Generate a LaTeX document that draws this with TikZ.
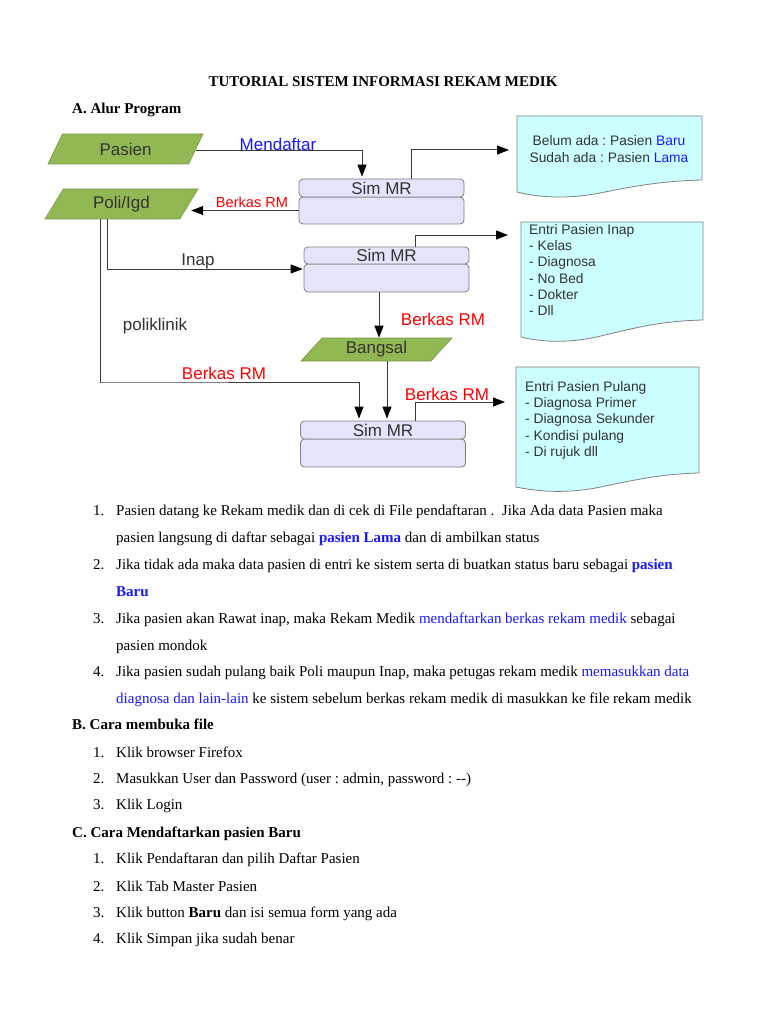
\documentclass[tikz,border=0pt]{standalone}
\usepackage{fontspec}
\setmainfont{Liberation Serif}
\newfontfamily\diagfont{Liberation Sans}
\usetikzlibrary{arrows.meta,shapes.geometric}

\definecolor{ioGreen}{RGB}{146,184,84}
\definecolor{ioEdge}{RGB}{120,150,70}
\definecolor{simFill}{RGB}{228,228,250}
\definecolor{docFill}{RGB}{204,255,255}
\definecolor{edgeGray}{RGB}{128,128,128}
\definecolor{lineGray}{RGB}{60,60,60}
\definecolor{txtGray}{RGB}{51,51,51}
\definecolor{linkBlue}{RGB}{25,25,255}
\definecolor{rmRed}{RGB}{255,0,0}

\begin{document}
\frenchspacing
\begin{tikzpicture}[x=1pt,y=-1pt,
  io/.style={trapezium, trapezium stretches body, fill=ioGreen, draw=ioEdge, line width=0.6pt,
    inner sep=0pt, text=txtGray, font=\diagfont\fontsize{17}{20}\selectfont},
  simbox/.style={rectangle, rounded corners=4pt, fill=simFill, draw=edgeGray, line width=0.8pt,
    minimum width=165pt, inner sep=0pt, text=txtGray, font=\diagfont\fontsize{17}{20}\selectfont},
  docline/.style={fill=docFill, draw=edgeGray, line width=0.8pt},
  doctext/.style={inner sep=0pt, text=txtGray, font=\diagfont\fontsize{13.8}{16.3}\selectfont},
  flow/.style={draw=lineGray, line width=1pt, -{Triangle[length=12pt,width=9pt,color=black]}},
  lbl/.style={inner sep=0pt, font=\diagfont\fontsize{17}{20}\selectfont},
  txt/.style={anchor=base west, inner sep=0pt, font=\fontsize{15}{18}\selectfont}
]
  \fill[white] (0,0) rectangle (768,1024);
  \useasboundingbox (0,0) rectangle (768,1024);

  % heading
  \node[txt, anchor=base, font=\bfseries\fontsize{15}{18}\selectfont] (title) at (383,87) {TUTORIAL SISTEM INFORMASI REKAM MEDIK};
  \node[txt, font=\bfseries\fontsize{15}{18}\selectfont] (headA) at (72,114) {A. Alur Program};

  % documents
  \draw[docline] (517,116) -- (702,116) -- (702,180) .. controls (660,181) and (630,187) .. (600,193)
    .. controls (570,199) and (540,198) .. (517,192) -- cycle;
  \draw[docline] (521,222) -- (703,222) -- (703,320) .. controls (660,321) and (635,328) .. (605,335)
    .. controls (575,343) and (545,343) .. (521,337) -- cycle;
  \draw[docline] (516,367) -- (699,367) -- (699,473) .. controls (660,474) and (635,480) .. (605,486)
    .. controls (575,493) and (545,493) .. (516,487) -- cycle;

  \node[doctext, align=center] (doc1) at (609,149) {Belum ada : Pasien \textcolor{linkBlue}{Baru}\\Sudah ada : Pasien \textcolor{linkBlue}{Lama}};
  \node[doctext, align=left, anchor=north west] (doc2) at (529,224) {Entri Pasien Inap\\- Kelas\\- Diagnosa\\- No Bed\\- Dokter\\- Dll};
  \node[doctext, align=left, anchor=north west] (doc3) at (525,381) {Entri Pasien Pulang\\- Diagnosa Primer\\- Diagnosa Sekunder\\- Kondisi pulang\\- Di rujuk dll};

  % flowchart shapes
  \node[io, trapezium left angle=41, trapezium right angle=139, minimum width=155pt, minimum height=30pt] (pasien) at (125.5,149) {Pasien};
  \node[io, trapezium left angle=41, trapezium right angle=139, minimum width=153pt, minimum height=30pt] (poli) at (121.5,204) {Poli/Igd};
  \node[io, trapezium left angle=37, trapezium right angle=143, minimum width=151pt, minimum height=23pt] (bangsal) at (376.5,349.5) {Bangsal};

  \node[simbox, minimum height=27pt] (sim1b) at (381.5,210.5) {};
  \node[simbox, minimum height=18pt] (sim1) at (381.5,188) {Sim MR};
  \node[simbox, minimum height=28pt] (sim2b) at (386.5,278) {};
  \node[simbox, minimum height=17pt] (sim2) at (386.5,255.5) {Sim MR};
  \node[simbox, minimum height=28pt] (sim3b) at (383,453) {};
  \node[simbox, minimum height=18pt] (sim3) at (383,430) {Sim MR};

  % connectors
  \coordinate (in1) at (509,150);
  \coordinate (in2) at (508,235);
  \coordinate (in3) at (505,402);
  \coordinate (poliA) at ([xshift=-21.5pt]poli.south);
  \coordinate (poliB) at ([xshift=-14.5pt]poli.south);

  \draw[flow, shorten >=2pt] ([yshift=-2pt]pasien.east) -| ([xshift=-19.5pt]sim1.north);
  \draw[flow] ([xshift=29.5pt]sim1.north) |- (in1);
  \draw[flow, shorten >=2pt] (sim1b.west) -- (sim1b.west -| poli.east);
  \draw[flow, shorten >=1pt] (poliB) |- ([yshift=9pt]sim2b.west);
  \draw[flow] ([xshift=28.5pt]sim2.north) |- (in2);
  \draw[flow] ([xshift=-7.5pt]sim2b.south) -- ([xshift=-7.5pt]sim2b.south |- bangsal.north);
  \draw[flow, shorten >=2pt] (poliA) |- (100,382) -| ([xshift=-24pt]sim3.north);
  \draw[flow, shorten >=2pt] (bangsal.south -| 387,0) -- (sim3.north -| 387,0);
  \draw[flow] ([xshift=32pt]sim3.north) |- (in3);

  % connector labels
  \node[lbl, text=linkBlue] (lMendaftar) at (278,144) {Mendaftar};
  \node[lbl, text=rmRed, font=\diagfont\fontsize{14.6}{17}\selectfont] (lRm1) at (252,202) {Berkas RM};
  \node[lbl, text=txtGray] (lInap) at (198,261) {Inap};
  \node[lbl, text=txtGray] (lPoliklinik) at (155,326) {poliklinik};
  \node[lbl, text=rmRed] (lRm2) at (443,319) {Berkas RM};
  \node[lbl, text=rmRed] (lRm3) at (224,373) {Berkas RM};
  \node[lbl, text=rmRed] (lRm4) at (447,394) {Berkas RM};

  % steps
  \node[txt] (a1) at (93,515) {\makebox[23pt][l]{1.}Pasien datang ke Rekam medik dan di cek di File pendaftaran .\ \ Jika Ada data Pasien maka};
  \node[txt] (a1b) at (116,542) {pasien langsung di daftar sebagai \textcolor{linkBlue}{\bfseries pasien Lama} dan di ambilkan status};
  \node[txt] (a2) at (93,569) {\makebox[23pt][l]{2.}Jika tidak ada maka data pasien di entri ke sistem serta di buatkan status baru sebagai \textcolor{linkBlue}{\bfseries pasien}};
  \node[txt] (a2b) at (116,596) {\textcolor{linkBlue}{\bfseries Baru}};
  \node[txt] (a3) at (93,623) {\makebox[23pt][l]{3.}Jika pasien akan Rawat inap, maka Rekam Medik \textcolor{linkBlue}{mendaftarkan berkas rekam medik} sebagai};
  \node[txt] (a3b) at (116,650) {pasien mondok};
  \node[txt] (a4) at (93,676) {\makebox[23pt][l]{4.}Jika pasien sudah pulang baik Poli maupun Inap, maka petugas rekam medik \textcolor{linkBlue}{memasukkan data}};
  \node[txt] (a4b) at (116,703) {\textcolor{linkBlue}{diagnosa dan lain-lain} ke sistem sebelum berkas rekam medik di masukkan ke file rekam medik};

  \node[txt, font=\bfseries\fontsize{15}{18}\selectfont] (headB) at (72,729) {B. Cara membuka file};
  \node[txt] (b1) at (93,757) {\makebox[23pt][l]{1.}Klik browser Firefox};
  \node[txt] (b2) at (93,783) {\makebox[23pt][l]{2.}Masukkan User dan Password (user : admin, password : -{}-)};
  \node[txt] (b3) at (93,809) {\makebox[23pt][l]{3.}Klik Login};

  \node[txt, font=\bfseries\fontsize{15}{18}\selectfont] (headC) at (72,837) {C. Cara Mendaftarkan pasien Baru};
  \node[txt] (c1) at (93,863) {\makebox[23pt][l]{1.}Klik Pendaftaran dan pilih Daftar Pasien};
  \node[txt] (c2) at (93,891) {\makebox[23pt][l]{2.}Klik Tab Master Pasien};
  \node[txt] (c3) at (93,917) {\makebox[23pt][l]{3.}Klik button \textbf{Baru} dan isi semua form yang ada};
  \node[txt] (c4) at (93,943) {\makebox[23pt][l]{4.}Klik Simpan jika sudah benar};
\end{tikzpicture}
\end{document}
